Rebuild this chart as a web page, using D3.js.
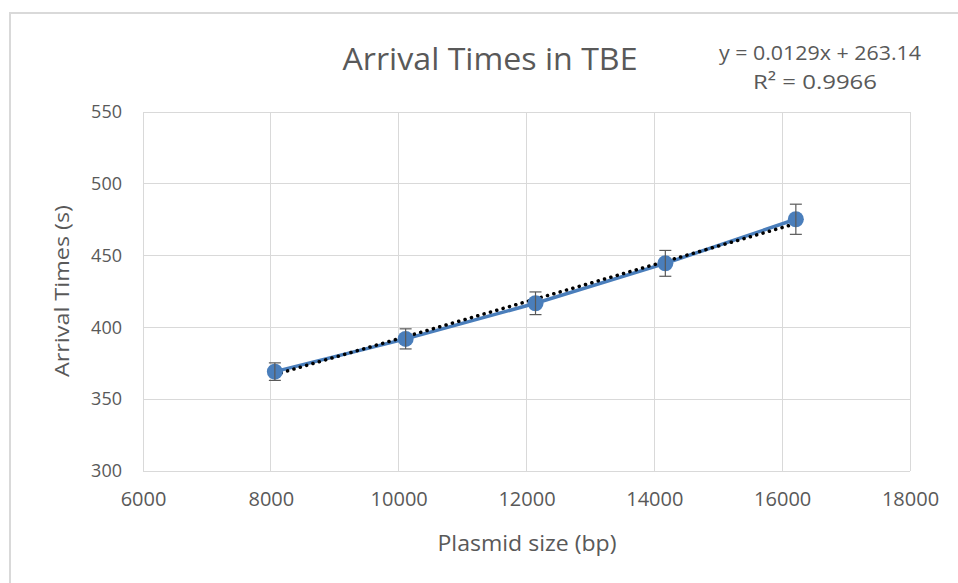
<!DOCTYPE html>
<html><head><meta charset="utf-8">
<script src="https://cdn.jsdelivr.net/npm/d3@7"></script>
<style>body{margin:0;background:#fff}svg{display:block}</style>
</head><body><svg id="c" width="958" height="583"></svg>
<script>
const plasmidSize = [8063, 10109, 12141, 14172, 16214];
const arrivalTime = [369.2, 392.0, 416.8, 444.6, 475.3];
const errorBar = [6.1, 7.0, 7.9, 9.0, 10.5];
const xTicks = [6000, 8000, 10000, 12000, 14000, 16000, 18000];
const yTicks = [300, 350, 400, 450, 500, 550];
const trendSlope = 0.0129, trendIntercept = 263.14;
const titleText = "Arrival Times in TBE";
const eqText = "y = 0.0129x + 263.14";
const r2Text = "R² = 0.9966";

const svg = d3.select("#c");
const x = d3.scaleLinear().domain([6000, 18000]).range([143, 910]);
const y = d3.scaleLinear().domain([300, 550]).range([471, 112]);
const font = "'Open Sans', 'Noto Sans', sans-serif";
const grey = "#595959";

// frame
svg.append("path").attr("d", "M10,590 L10,13 L970,13").attr("fill","none").attr("stroke","#d9d9d9").attr("stroke-width",2);

// grid
svg.append("g").selectAll("line").data(yTicks).join("line")
  .attr("x1", x(6000)).attr("x2", x(18000)).attr("y1", d=>y(d)).attr("y2", d=>y(d))
  .attr("stroke","#d9d9d9").attr("stroke-width",1).attr("shape-rendering","crispEdges");
svg.append("g").selectAll("line").data(xTicks).join("line")
  .attr("y1", y(300)).attr("y2", y(550)).attr("x1", d=>x(d)).attr("x2", d=>x(d))
  .attr("stroke","#d9d9d9").attr("stroke-width",1).attr("shape-rendering","crispEdges");

// axes labels
const xAxis = d3.axisBottom(x).tickValues(xTicks).tickSize(0).tickPadding(0).tickFormat(d3.format("d"));
const gx = svg.append("g").attr("transform", `translate(0,${y(300)+21})`).call(xAxis);
gx.select(".domain").remove();
gx.selectAll("text").attr("font-family", font).attr("font-size", 20).attr("fill",grey).attr("dy","0.71em");

const yAxis = d3.axisLeft(y).tickValues(yTicks).tickSize(0).tickPadding(0);
const gy = svg.append("g").attr("transform", `translate(122,0)`).call(yAxis);
gy.select(".domain").remove();
gy.selectAll("text").attr("font-family", font).attr("font-size", 18).attr("fill",grey);

const data = plasmidSize.map((d,i)=>({x:d, y:arrivalTime[i], e:errorBar[i]}));
const tx = [plasmidSize[0], plasmidSize[plasmidSize.length-1]];

// series line
svg.append("path").datum(data)
  .attr("d", d3.line().x(d=>x(d.x)).y(d=>y(d.y)))
  .attr("fill","none").attr("stroke","#4a7ebb").attr("stroke-width",3.5);

// trendline (dotted)
svg.append("line")
  .attr("x1", x(tx[0])).attr("y1", y(trendSlope*tx[0]+trendIntercept))
  .attr("x2", x(tx[1])).attr("y2", y(trendSlope*tx[1]+trendIntercept))
  .attr("stroke","#000").attr("stroke-width",3.5).attr("stroke-dasharray","0.1 6.5").attr("stroke-linecap","round");

// markers
svg.append("g").selectAll("circle").data(data).join("circle")
  .attr("cx", d=>x(d.x)).attr("cy", d=>y(d.y)).attr("r", 8).attr("fill","#4a7ebb");

// error bars
const eb = svg.append("g").attr("stroke","#595959").attr("stroke-width",1.2);
data.forEach(d=>{
  const cx = x(d.x);
  eb.append("line").attr("x1",cx).attr("x2",cx).attr("y1",y(d.y+d.e)).attr("y2",y(d.y-d.e));
  eb.append("line").attr("x1",cx-6).attr("x2",cx+6).attr("y1",y(d.y+d.e)).attr("y2",y(d.y+d.e));
  eb.append("line").attr("x1",cx-6).attr("x2",cx+6).attr("y1",y(d.y-d.e)).attr("y2",y(d.y-d.e));
});

// title
svg.append("text").attr("x", 490).attr("y", 70).attr("text-anchor","middle")
  .attr("font-family", font).attr("font-size", 31).attr("fill",grey)
  .attr("textLength", 295).attr("lengthAdjust","spacingAndGlyphs").text(titleText);

// equation
svg.append("text").attr("x", 820).attr("y", 60).attr("text-anchor","middle")
  .attr("font-family", font).attr("font-size", 20).attr("fill",grey)
  .attr("textLength", 202).attr("lengthAdjust","spacingAndGlyphs").text(eqText);
svg.append("text").attr("x", 815).attr("y", 89).attr("text-anchor","middle")
  .attr("font-family", font).attr("font-size", 20).attr("fill",grey)
  .attr("textLength", 124).attr("lengthAdjust","spacingAndGlyphs").text(r2Text);

// axis titles
svg.append("text").attr("x", 527).attr("y", 551).attr("text-anchor","middle")
  .attr("font-family", font).attr("font-size", 22).attr("fill",grey)
  .attr("textLength", 179).attr("lengthAdjust","spacingAndGlyphs").text("Plasmid size (bp)");
svg.append("text").attr("transform","translate(69,291) rotate(-90)").attr("text-anchor","middle")
  .attr("font-family", font).attr("font-size", 20).attr("fill",grey)
  .attr("textLength", 172).attr("lengthAdjust","spacingAndGlyphs").text("Arrival Times (s)");
</script></body></html>
